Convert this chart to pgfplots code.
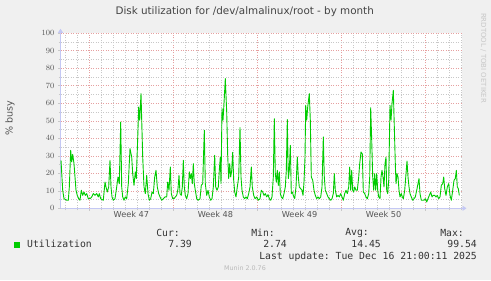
\documentclass[border=0pt]{standalone}
\usepackage{fontspec}
\setmainfont{DejaVu Sans}
\setmonofont{DejaVu Sans Mono}
\usepackage{pgfplots}
\pgfplotsset{compat=1.18}
\usetikzlibrary{arrows.meta}
\definecolor{bgcol}{HTML}{F0F0F0}
\definecolor{mgrid}{HTML}{E6A0A0}
\definecolor{sgrid}{HTML}{C8C8C8}
\definecolor{axcol}{HTML}{C4C8F4}
\definecolor{txt}{HTML}{555555}
\definecolor{ttl}{HTML}{444444}
\definecolor{lgd}{HTML}{333333}
\definecolor{mgreen}{HTML}{00CC00}
\begin{document}
\begin{tikzpicture}[x=1bp,y=1bp]
\path[use as bounding box, fill=bgcol] (0,0) rectangle (491,280);
\begin{axis}[
  at={(60.5bp,71.7bp)}, anchor=south west,
  scale only axis, width=401.5bp, height=175bp,
  xmin=60.5, xmax=462, ymin=0, ymax=100,
  axis background/.style={fill=white},
  axis x line=bottom, axis y line=left,
  axis line style={draw=axcol, line width=0.8bp},
  x axis line style={-{Triangle[length=4bp,width=5bp]}, shorten >=-4.5bp},
  y axis line style={-{Triangle[length=4bp,width=5bp]}, shorten >=-4.5bp},
  xtick={89.3,173.4,257.5,341.6,425.7},
  xticklabels={},
  minor xtick={65.27,77.29,101.31,113.33,125.34,137.36,149.37,161.38,185.41,197.43,209.44,221.45,233.47,245.48,269.51,281.52,293.54,305.55,317.57,329.58,353.61,365.62,377.64,389.65,401.66,413.68,437.71,449.72,461.73},
  extra x ticks={131.35,215.45,299.55,383.65},
  extra x tick labels={Week 47,Week 48,Week 49,Week 50},
  extra x tick style={grid=none, major tick length=0pt, xticklabel style={yshift=-1bp}},
  ytick={0,10,...,100},
  minor ytick={5,15,...,95},
  grid=both,
  major grid style={draw=mgrid, dash pattern=on 1bp off 1.5bp, line width=0.6bp},
  minor grid style={draw=sgrid, dash pattern=on 1bp off 1.5bp, line width=0.6bp},
  tick align=outside,
  major tick length=2.5bp, minor tick length=2bp,
  tick style={draw=sgrid, line width=0.6bp},
  ticklabel style={font=\fontsize{8.2}{9}\selectfont, text=txt},
  yticklabel style={inner sep=0pt, xshift=-3.5bp},
  xticklabel style={inner sep=0pt, yshift=-2bp},
  clip=false,
]
\addplot[draw=mgreen, line width=0.9bp, line join=round] table {
61.0 27.4
62.7 10.3
64.0 5.5
66.7 4.6
68.3 4.6
69.3 12.0
70.7 33.1
71.7 26.5
72.7 30.8
74.0 25.5
76.0 10.3
77.3 7.4
78.7 5.5
80.0 4.6
81.3 10.3
82.7 7.4
84.0 9.3
85.3 7.4
86.7 8.4
88.3 5.5
90.0 5.5
91.7 6.5
93.3 8.4
95.0 7.4
96.7 8.4
98.3 6.5
99.3 8.4
100.7 5.5
102.0 5.0
103.3 4.6
105.0 15.0
106.0 12.2
107.3 9.3
108.7 12.2
110.0 27.4
111.0 12.2
112.0 6.5
113.3 4.6
115.0 5.5
116.7 12.2
118.0 17.9
119.3 14.1
120.7 49.3
121.7 12.2
122.7 6.5
124.0 4.6
125.3 6.5
126.7 5.5
128.3 14.1
130.0 34.1
131.7 29.3
132.7 19.8
134.0 13.1
135.3 20.8
136.3 17.0
137.7 40.0
138.7 57.9
139.7 50.3
141.0 65.5
142.7 29.3
144.0 12.2
145.3 8.4
146.7 18.9
148.0 8.4
149.3 4.6
150.7 5.5
152.0 9.3
153.3 8.4
154.7 17.9
156.0 21.7
157.3 12.2
158.7 8.4
160.0 6.5
161.7 4.6
163.3 5.5
165.0 6.5
166.7 6.5
167.7 15.0
169.0 10.3
170.3 23.6
171.3 8.4
172.7 5.5
174.0 5.5
175.3 6.5
176.7 7.4
178.0 11.2
179.0 18.9
180.0 8.4
181.3 7.4
182.3 12.2
183.3 27.4
184.3 12.2
185.3 7.4
186.7 5.5
188.0 8.4
189.3 20.8
190.3 17.0
191.3 19.8
192.3 14.1
193.3 25.5
194.3 14.1
195.3 10.3
196.7 5.5
198.3 4.6
200.0 5.5
201.3 13.1
202.7 14.1
204.3 44.6
205.3 14.1
206.7 7.4
208.0 10.3
209.3 6.5
210.7 4.6
212.0 5.5
213.3 12.2
214.7 30.3
215.7 12.2
217.0 10.3
218.3 12.2
219.3 21.7
220.3 29.3
221.0 14.1
222.0 57.0
223.0 50.3
224.0 60.0
225.3 74.1
226.7 55.0
227.7 30.0
228.7 17.0
229.7 25.5
230.7 17.9
231.7 21.7
232.7 32.0
233.7 16.0
234.7 9.3
236.0 6.5
237.3 12.2
238.7 17.9
240.0 46.1
241.0 17.9
242.0 10.3
243.3 6.5
244.7 5.5
246.0 6.5
247.3 5.5
248.7 8.4
250.0 12.2
251.3 23.6
252.3 12.2
253.7 7.4
255.0 5.5
256.7 6.5
258.3 4.6
260.0 5.5
261.3 10.3
262.7 9.3
264.0 7.4
265.3 8.4
266.7 6.5
268.0 7.8
269.3 5.5
270.7 4.6
272.0 6.5
273.3 17.9
274.3 51.2
275.3 19.8
276.3 15.0
277.3 21.7
278.3 13.1
279.3 20.8
280.3 8.4
281.3 6.5
282.7 5.5
284.0 8.4
285.3 12.2
286.3 21.7
287.3 50.7
288.3 17.0
289.3 21.7
290.3 36.0
291.3 8.4
292.3 9.3
293.3 7.4
294.7 5.5
296.0 12.2
297.3 29.3
298.3 17.9
299.3 12.2
300.7 11.2
302.0 10.3
303.0 7.4
304.0 15.0
305.0 29.3
305.7 58.9
306.7 50.3
307.7 57.9
309.3 65.5
310.3 50.3
311.3 17.9
312.7 16.0
314.0 10.3
315.3 7.4
316.7 5.5
318.0 6.5
319.3 5.5
320.7 6.5
322.0 12.2
323.3 40.8
324.3 17.9
325.3 10.3
326.7 8.4
328.0 6.5
329.3 5.5
330.7 4.6
332.0 5.5
333.3 8.4
334.3 19.8
335.3 10.3
336.7 6.5
338.0 7.4
339.3 6.5
340.7 8.4
342.0 6.5
343.3 4.6
344.7 8.4
346.0 10.3
347.3 8.4
348.7 12.2
349.7 23.6
350.7 10.3
351.7 21.7
352.7 10.3
353.7 9.3
354.7 12.2
356.0 10.3
357.3 10.3
358.7 17.9
359.7 25.5
361.0 32.2
362.3 31.0
363.3 9.3
364.7 8.4
366.0 6.5
367.3 5.5
368.7 8.4
369.7 17.9
370.7 57.5
371.7 38.8
372.7 17.9
373.7 10.3
374.7 19.8
375.7 10.3
376.7 19.8
377.7 10.3
378.7 6.5
380.0 5.5
381.0 17.9
382.0 21.7
383.0 17.9
384.0 12.2
385.0 25.5
386.0 29.3
386.7 10.3
387.7 8.4
388.7 16.0
390.0 58.9
391.0 50.3
392.0 59.8
393.3 67.4
394.3 46.5
395.3 25.5
396.0 14.1
397.0 19.8
398.0 17.9
399.0 10.3
400.0 6.5
401.3 8.4
402.3 6.5
403.3 5.5
404.7 10.3
406.0 19.8
407.0 27.0
408.0 17.9
409.0 12.2
410.0 8.4
411.3 6.5
412.7 4.6
414.0 5.5
415.3 6.5
416.7 10.3
418.0 14.1
419.0 17.0
420.0 8.4
421.3 4.6
422.7 4.6
424.0 4.6
425.3 5.5
426.7 3.6
428.0 5.5
429.3 7.4
430.7 9.3
432.0 6.5
433.3 7.4
434.7 7.4
436.0 6.5
437.3 7.4
438.7 5.5
440.0 6.5
441.3 13.1
442.7 14.1
443.7 17.9
444.7 11.2
446.0 7.4
447.3 12.2
448.7 14.1
450.0 7.4
451.3 4.6
452.7 10.3
454.0 16.0
455.3 17.0
456.3 21.7
457.3 12.2
458.3 11.2
459.3 7.4
};
\end{axis}
% title and labels
\node[text=ttl, font=\fontsize{10.4}{12}\selectfont] at (244.7,268.3) {Disk utilization for /dev/almalinux/root - by month};
\node[text=txt, font=\fontsize{9.6}{11}\selectfont, rotate=90] at (10,162) {\% busy};
\node[text=sgrid, font=\fontsize{7}{8}\selectfont, rotate=-90] at (483.5,222) {RRDTOOL / TOBI OETIKER};
% legend
\begin{scope}[every node/.style={inner sep=0pt, text=lgd, font=\ttfamily\fontsize{9.8}{11}\selectfont}]
\node[anchor=east] at (180,47.3) {Cur:};
\node[anchor=east] at (275,47.3) {Min:};
\node[anchor=east] at (369,47.3) {Avg:};
\node[anchor=east] at (464,47.3) {Max:};
\node at (17,35.3) {\color{mgreen}\rule{6bp}{6bp}};
\node[anchor=west] at (27,35.7) {Utilization};
\node[anchor=east] at (192,35.7) {7.39};
\node[anchor=east] at (287,35.7) {2.74};
\node[anchor=east] at (381,35.7) {14.45};
\node[anchor=east] at (477,35.7) {99.54};
\node[anchor=east] at (477,23.3) {Last update: Tue Dec 16 21:00:11 2025};
\end{scope}
\node[text=black!27, font=\fontsize{6.4}{7}\selectfont] at (245,11.7) {Munin 2.0.76};
\end{tikzpicture}
\end{document}
